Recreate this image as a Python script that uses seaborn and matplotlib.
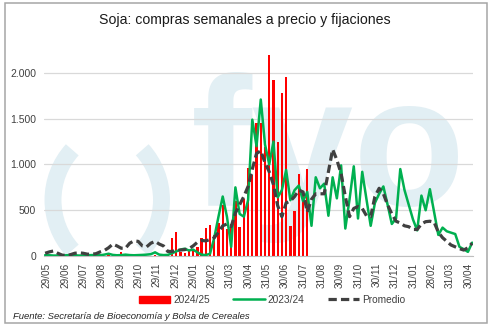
import numpy as np
import pandas as pd
import matplotlib
matplotlib.use("Agg")
import matplotlib.pyplot as plt
import seaborn as sns
from matplotlib.patches import Arc, Rectangle, Patch
from matplotlib.lines import Line2D
from matplotlib.ticker import FuncFormatter, FixedLocator
from matplotlib.transforms import IdentityTransform

# ---------------- data ----------------
weeks = list(range(102))

campaign_2425 = [0] * 15 + [
    25, 0, 0, 45, 20, 0, 0, 0, 0, 0, 0, 15, 0, 20, 20,
    200, 266, 40, 35, 55, 65, 100, 193, 310, 340,
    230, 360, 560, 290, 350, 600, 320, 620, 960, 880,
    1450, 1450, 1195, 2200, 1920, 1250, 1785, 1960, 330, 495,
    896, 660, 950] + [0] * 39

campaign_2324 = [
    10, 8, 5, 5, 5, 8, 10, 8, 5, 5, 8, 10, 10, 8, 15,
    25, 12, 8, 10, 15, 10, 8, 10, 12, 15, 20, 40, 15, 10, 12,
    30, 50, 70, 80, 60, 70, 40, 15, 10, 25,
    200, 430, 650, 430, 100, 750, 460, 430, 610, 1490,
    1200, 1710, 1220, 1000, 1250, 640, 720, 940, 610, 720,
    770, 600, 700, 330, 860, 740, 790, 440, 860, 630,
    990, 300, 620, 980, 410, 920, 620, 330, 580, 680,
    760, 560, 350, 410, 950, 720, 560, 400, 280, 660,
    500, 730, 480, 230, 310, 270, 255, 240, 100, 75, 45, 146]

promedio = [
    30, 45, 55, 30, 10, 5, 15, 30, 35, 30, 20, 20, 25, 45, 60,
    90, 130, 110, 85, 85, 140, 165, 160, 110, 100, 140, 160, 130, 110, 50,
    50, 60, 65, 70, 80, 110, 150, 170, 165, 180,
    200, 260, 330, 350, 320, 470, 560, 650, 760, 950,
    1120, 1150, 1020, 920, 780, 550, 430, 580, 600, 650,
    720, 700, 480, 620, 680, 680, 680, 920, 1165, 1050,
    900, 650, 430, 520, 540, 520, 440, 430, 650, 740,
    680, 560, 460, 380, 360, 330, 320, 290, 290, 350,
    375, 380, 370, 260, 200, 160, 120, 100, 80, 65, 90, 140]

tick_labels = ["29/05", "29/06", "29/07", "29/08", "29/09", "29/10", "29/11", "29/12",
               "29/01", "28/02", "31/03", "30/04", "31/05", "30/06", "31/07", "31/08",
               "30/09", "31/10", "30/11", "31/12", "31/01", "28/02", "31/03", "30/04"]

series_names = ["2024/25", "2023/24", "Promedio"]

# ---------------- style ----------------
sns.set_theme(style="white")
plt.rcParams["font.family"] = ["Liberation Sans", "DejaVu Sans"]

RED = "#ff0000"
GREEN = "#00b050"
DARK = "#404040"
WM = "#e2eff4"

W, H = 493, 331
fig = plt.figure(figsize=(W / 100, H / 100), dpi=100)
fig.patch.set_facecolor("white")

ax_left, ax_right, ax_top, ax_bottom = 44.3, 473.0, 50.1, 256.0
ax = fig.add_axes([ax_left / W, (H - ax_bottom) / H,
                   (ax_right - ax_left) / W, (ax_bottom - ax_top) / H])
ax.set_facecolor("none")

# ---------------- watermark (behind axes) ----------------
def px(x, y):
    return (x, H - y)

for cx, t1, t2 in [(128, 138, 222), (86.5, -42, 42)]:
    a = Arc(px(cx, 200), 150, 150, theta1=t1, theta2=t2,
            transform=IdentityTransform(), color=WM, lw=12.2, zorder=-2)
    a.set_capstyle("butt")
    fig.add_artist(a)

fig.text(191 / W, 1 - 205 / H, "fyo", fontsize=132, fontweight="bold",
         color=WM, ha="left", va="baseline", zorder=-2)

# ---------------- plot ----------------
df_bar = pd.DataFrame({"week": weeks, "value": campaign_2425})
df_bar = df_bar[df_bar["value"] > 0]
sns.barplot(data=df_bar, x="week", y="value", native_scale=True, color=RED,
            saturation=1, width=0.55, errorbar=None, linewidth=0, ax=ax, zorder=2)

sns.lineplot(x=weeks, y=campaign_2324, color=GREEN, lw=1.8, ax=ax, zorder=3)
sns.lineplot(x=weeks, y=promedio, color=DARK, lw=2.3, ax=ax, zorder=4,
             linestyle=(0, (2.6, 1.3)), dash_capstyle="butt")

ax.set_xlim(-0.2, 101.2)
ax.set_ylim(0, 2250)
ax.set_xlabel("")
ax.set_ylabel("")

tick_pos = [0.4 + i * 4.333 for i in range(len(tick_labels))]
ax.xaxis.set_major_locator(FixedLocator(tick_pos))
ax.set_xticklabels(tick_labels, rotation=90)
ax.yaxis.set_major_locator(FixedLocator([0, 500, 1000, 1500, 2000]))
ax.yaxis.set_major_formatter(FuncFormatter(lambda v, p: f"{int(v):,}".replace(",", ".")))

ax.yaxis.grid(True, color="#d9d9d9", lw=0.9)
ax.xaxis.grid(False)
ax.set_axisbelow(True)
for s in ["left", "right", "top"]:
    ax.spines[s].set_visible(False)
ax.spines["bottom"].set_color("#bfbfbf")
ax.spines["bottom"].set_linewidth(0.8)

ax.tick_params(axis="x", direction="out", length=3, width=0.8, color="#bfbfbf",
               labelsize=7.2, labelcolor=DARK, pad=2)
ax.tick_params(axis="y", length=0, labelsize=7.5, labelcolor=DARK, pad=6)

# ---------------- texts ----------------
fig.text(245 / W, 1 - 20 / H, "Soja: compras semanales a precio y fijaciones",
         ha="center", va="center", fontsize=10.2, color="#1a1a1a")

fig.text(13 / W, 1 - 316.5 / H, "Fuente: Secretaría de Bioeconomía y Bolsa de Cereales",
         ha="left", va="center", fontsize=6.8, style="italic", color="#262626")

handles = [Patch(color=RED),
           Line2D([], [], color=GREEN, lw=1.8),
           Line2D([], [], color=DARK, lw=2.3, linestyle=(0, (2.6, 1.3)),
                  dash_capstyle="butt")]
fig.legend(handles, series_names, loc="center", bbox_to_anchor=(272 / W, 1 - 300 / H),
           ncol=3, frameon=False, fontsize=7.3, handlelength=3.1, handletextpad=0.3,
           columnspacing=2.3, labelcolor=DARK)

fig.add_artist(Rectangle((5, H - 322.7), 481.7, 319.4, transform=IdentityTransform(),
                         fill=False, ec="#a6a6a6", lw=1.1))

fig.savefig("out.png", dpi=100)
